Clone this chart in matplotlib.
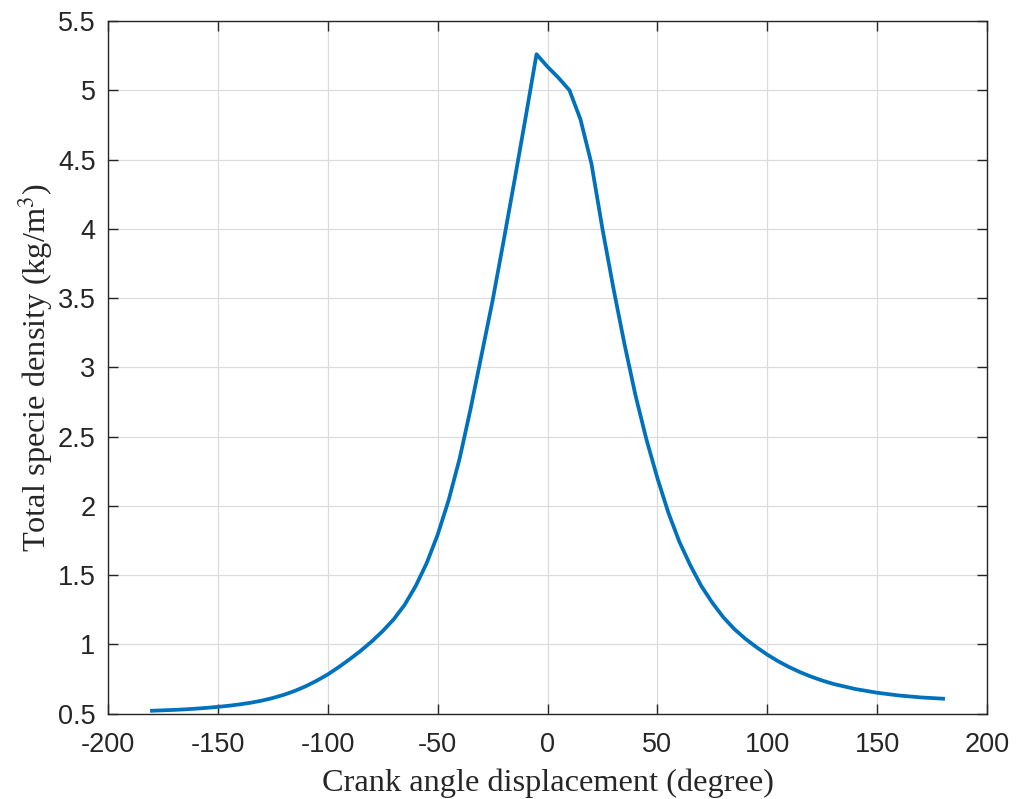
import matplotlib
matplotlib.use("Agg")
import matplotlib.pyplot as plt

# crank angle (deg) and total specie density (kg/m^3)
crank_angle = [-180, -175, -170, -165, -160, -155, -150, -145, -140, -135,
               -130, -125, -120, -115, -110, -105, -100, -95, -90, -85,
               -80, -75, -70, -65, -60, -55, -50, -45, -40, -35,
               -30, -25, -20, -15, -10, -5, 0, 5, 10, 15,
               20, 25, 30, 35, 40, 45, 50, 55, 60, 65,
               70, 75, 80, 85, 90, 95, 100, 105, 110, 115,
               120, 125, 130, 140, 150, 160, 170, 180]
density = [0.52, 0.523, 0.526, 0.53, 0.535, 0.541, 0.548, 0.556, 0.566, 0.578,
           0.593, 0.612, 0.635, 0.663, 0.697, 0.737, 0.782, 0.835, 0.892, 0.953,
           1.02, 1.095, 1.18, 1.285, 1.42, 1.585, 1.79, 2.04, 2.34, 2.70,
           3.09, 3.48, 3.91, 4.35, 4.80, 5.26, 5.17, 5.09, 5.00, 4.79,
           4.47, 4.00, 3.57, 3.17, 2.80, 2.48, 2.20, 1.95, 1.74, 1.57,
           1.42, 1.30, 1.195, 1.11, 1.04, 0.98, 0.925, 0.877, 0.835, 0.798,
           0.766, 0.738, 0.714, 0.677, 0.65, 0.63, 0.616, 0.607]

xticks = [-200, -150, -100, -50, 0, 50, 100, 150, 200]
yticks = [0.5, 1, 1.5, 2, 2.5, 3, 3.5, 4, 4.5, 5, 5.5]

plt.rcParams['mathtext.fontset'] = 'stix'

fig = plt.figure(figsize=(10.17, 7.99), dpi=100)
ax = fig.add_axes([0.1062, 0.107, 0.8643, 0.8667])

ax.plot(crank_angle, density, color='#0072BD', linewidth=2.7)

ax.set_xlim(-200, 200)
ax.set_ylim(0.5, 5.5)
ax.set_xticks(xticks)
ax.set_yticks(yticks)
ax.set_xticklabels([str(t) for t in xticks])
ax.set_yticklabels([f"{t:g}" for t in yticks])

ax.grid(True, color='#dcdcdc', linewidth=0.9)
ax.set_axisbelow(True)
ax.tick_params(direction='in', length=7, width=1, colors='#262626',
               top=True, right=True, labelsize=19.5)
ax.tick_params(axis='x', pad=13)
ax.tick_params(axis='y', pad=9)
for lab in ax.get_xticklabels() + ax.get_yticklabels():
    lab.set_family('Liberation Sans')
for sp in ax.spines.values():
    sp.set_color('#262626')
    sp.set_linewidth(1)

ax.set_xlabel('Crank angle displacement (degree)', family='Liberation Serif',
              fontsize=23.3, color='#262626', labelpad=8)
ax.set_ylabel('Total specie density (kg/m$^{3}$)', family='Liberation Serif',
              fontsize=23.3, color='#262626', labelpad=2)

fig.savefig('out.png', dpi=100)
